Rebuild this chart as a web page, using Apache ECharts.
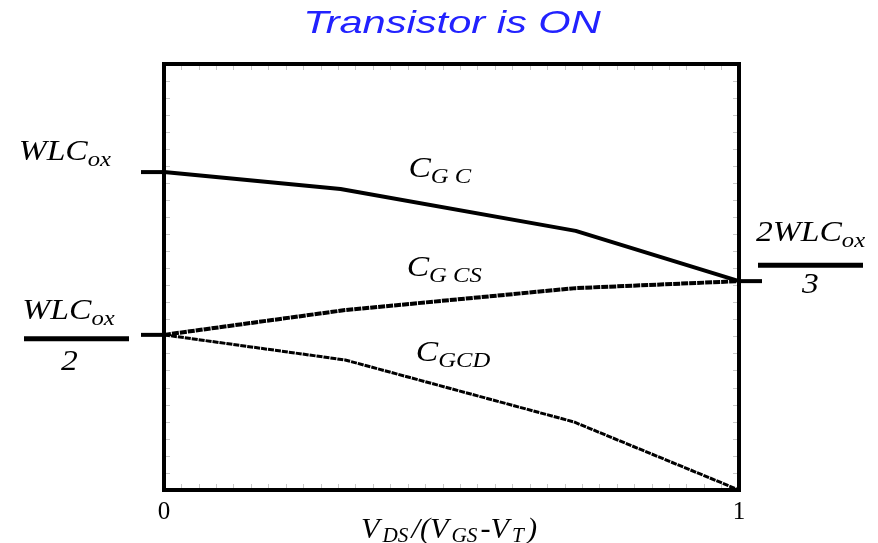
<!DOCTYPE html>
<html><head><meta charset="utf-8">
<script src="https://cdn.jsdelivr.net/npm/echarts@6/dist/echarts.min.js"></script>
<style>html,body{margin:0;padding:0;background:#fff}#c{width:878px;height:543px}</style>
</head><body><div id="c"></div>
<script>
// Gate capacitances of an MOS transistor in the ON state.
// x: V_DS/(V_GS - V_T), y: capacitance in units of W·L·Cox
const xGC  = [0, 0.307, 0.716, 1];
const cGC  = [1.0, 0.947, 0.815, 0.657];
const xGCS = [0, 0.315, 0.716, 1];
const cGCS = [0.488, 0.566, 0.635, 0.657];
const xGCD = [0, 0.315, 0.713, 1];
const cGCD = [0.488, 0.409, 0.214, 0.0];

// reference levels marked on the left / right frame
const levelX = [0, 0, 1];
const levelY = [1.0, 0.488, 0.657];

// curve name anchors (x ratio, capacitance)
const nameX = [0.425, 0.422, 0.438];
const nameY = [0.950, 0.638, 0.370];
const nameText = [['C', 'G C'], ['C', 'G CS'], ['C', 'GCD']];

const xTicks = ['0', '1'];
const xName = '{m|V}{s|DS}{m|/(V}{s|GS}{m|-V}{s|T}{m|)}';

const SERIF = 'Liberation Serif';
const WIDE = 1.12;
const rich = {
  m: { fontFamily: SERIF, fontStyle: 'italic', fontSize: 30, lineHeight: 38, color: '#000' },
  s: { fontFamily: SERIF, fontStyle: 'italic', fontSize: 22, lineHeight: 14, verticalAlign: 'bottom', color: '#000' }
};
const nameRich = {
  m: { fontFamily: SERIF, fontStyle: 'italic', fontSize: 30, lineHeight: 34, color: '#000', padding: [0, 1] },
  s: { fontFamily: SERIF, fontStyle: 'italic', fontSize: 21, lineHeight: 12, verticalAlign: 'bottom', color: '#000', padding: [0, 2] }
};

const pairs = (xs, ys) => xs.map((x, i) => [x, ys[i]]);

function richText(x, y, text, align, vAlign) {
  return { type: 'text', x: x, y: y, scaleX: WIDE, style: { text: text, rich: rich, align: align, verticalAlign: vAlign } };
}
function plainText(x, y, text, align, vAlign) {
  return { type: 'text', x: x, y: y, scaleX: WIDE, style: { text: text, fontFamily: SERIF, fontStyle: 'italic', fontSize: 30, fill: '#000', align: align, verticalAlign: vAlign } };
}

function renderLevel(params, api) {
  const p = api.coord([api.value(0), api.value(1)]);
  const dir = api.value(0) === 0 ? -1 : 1;
  const kids = [{
    type: 'line',
    shape: { x1: p[0], y1: p[1], x2: p[0] + dir * 23, y2: p[1] },
    style: { stroke: '#000', lineWidth: 4 }
  }];
  const i = params.dataIndex;
  if (i === 0) {
    kids.push(richText(p[0] - 53, p[1] - 1, '{m|WLC}{s|ox}', 'right', 'bottom'));
  } else if (i === 1) {
    const bx1 = p[0] - 140, bx2 = p[0] - 35, by = p[1] + 4;
    kids.push({ type: 'line', shape: { x1: bx1, y1: by, x2: bx2, y2: by }, style: { stroke: '#000', lineWidth: 5 } });
    kids.push(richText((bx1 + bx2) / 2 - 8, by - 9, '{m|WLC}{s|ox}', 'center', 'bottom'));
    kids.push(plainText((bx1 + bx2) / 2 - 7, by + 8, '2', 'center', 'top'));
  } else {
    const bx1 = p[0] + 19, bx2 = p[0] + 124, by = p[1] - 16;
    kids.push({ type: 'line', shape: { x1: bx1, y1: by, x2: bx2, y2: by }, style: { stroke: '#000', lineWidth: 5 } });
    kids.push(richText((bx1 + bx2) / 2, by - 13, '{m|2WLC}{s|ox}', 'center', 'bottom'));
    kids.push(plainText((bx1 + bx2) / 2, by + 5, '3', 'center', 'top'));
  }
  return { type: 'group', children: kids };
}

function renderName(params, api) {
  const p = api.coord([api.value(0), api.value(1)]);
  const t = nameText[params.dataIndex];
  return richText(p[0], p[1], '{m|' + t[0] + '}{s|' + t[1] + '}', 'left', 'bottom');
}

// heavy plot frame drawn over the faint tick marks
function renderFrame(params) {
  const cs = params.coordSys;
  return {
    type: 'rect',
    shape: { x: cs.x, y: cs.y, width: cs.width, height: cs.height },
    style: { fill: null, stroke: '#000', lineWidth: 4 }
  };
}

const frameAxis = {
  min: 0, max: 1, interval: 1,
  axisLine: { show: false, onZero: false },
  axisTick: { show: true, inside: true, length: 6, lineStyle: { color: '#c8c8c8', width: 1 } },
  minorTick: { show: true, splitNumber: 33, length: 6, lineStyle: { color: '#c8c8c8', width: 1 } },
  splitLine: { show: false }
};
const frameYAxis = {
  min: 0, max: 1.34, interval: 1.34,
  axisLine: { show: false, onZero: false },
  axisTick: { show: true, inside: true, length: 6, lineStyle: { color: '#c8c8c8', width: 1 } },
  minorTick: { show: true, splitNumber: 25, length: 6, lineStyle: { color: '#c8c8c8', width: 1 } },
  splitLine: { show: false },
  axisLabel: { show: false }
};

const option = {
  animation: false,
  backgroundColor: '#fff',
  graphic: [{
    type: 'text', x: 452, y: 8, scaleX: 1.3,
    style: {
      text: 'Transistor is ON', align: 'center', verticalAlign: 'top',
      fontFamily: 'Liberation Sans', fontStyle: 'italic', fontSize: 32, fill: '#2222ff'
    }
  }, {
    // x-axis title, set below the tick labels
    type: 'text', x: 449, y: 547, scaleX: 1.01,
    style: { text: xName, rich: nameRich, align: 'center', verticalAlign: 'bottom' }
  }],
  grid: { left: 164, right: 139, top: 64, bottom: 53, outerBoundsMode: 'none', containLabel: false },
  xAxis: [
    Object.assign({}, frameAxis, {
      type: 'value', position: 'bottom',
      axisLabel: {
        show: true, margin: 10,
        formatter: v => (v === 0 ? xTicks[0] : v === 1 ? xTicks[1] : ''),
        fontFamily: SERIF, fontSize: 25, color: '#000'
      }
    }),
    Object.assign({}, frameAxis, { type: 'value', position: 'top', axisLabel: { show: false } })
  ],
  yAxis: [
    Object.assign({}, frameYAxis, { type: 'value', position: 'left' }),
    Object.assign({}, frameYAxis, { type: 'value', position: 'right' })
  ],
  series: [
    {
      type: 'custom', silent: true, z: 4, clip: false,
      data: [[0, 0]], renderItem: renderFrame
    },
    {
      name: 'C_GC', type: 'line', data: pairs(xGC, cGC), symbol: 'none', z: 3,
      lineStyle: { color: '#000', width: 4 }
    },
    {
      name: 'C_GCS', type: 'line', data: pairs(xGCS, cGCS), symbol: 'none', z: 3,
      lineStyle: { color: '#000', width: 4, type: [7, 1] }
    },
    {
      name: 'C_GCD', type: 'line', data: pairs(xGCD, cGCD), symbol: 'none', z: 3,
      lineStyle: { color: '#000', width: 3, type: [6, 1] }
    },
    {
      type: 'custom', clip: false, silent: true, z: 5,
      data: pairs(levelX, levelY), renderItem: renderLevel
    },
    {
      type: 'custom', clip: false, silent: true, z: 5,
      data: pairs(nameX, nameY), renderItem: renderName
    }
  ]
};

const chart = echarts.init(document.getElementById('c'), null, { renderer: 'canvas' });
chart.setOption(option);
</script>
</body></html>
